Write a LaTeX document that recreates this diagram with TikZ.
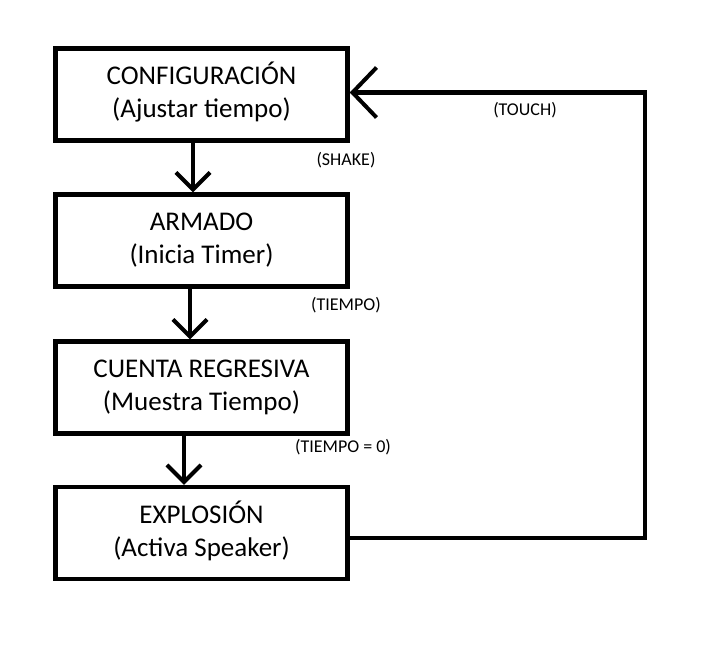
\documentclass[tikz,border=0pt]{standalone}
\usepackage{fontspec}
\setmainfont{Carlito}
\usetikzlibrary{arrows.meta}
\newcommand{\twolines}[2]{\raisebox{5pt}{\begin{tabular}{@{}c@{}}#1\\#2\end{tabular}}}
\begin{document}
\begin{tikzpicture}[x=1pt,y=-1pt,
  state/.style={draw,line width=4.5pt,minimum width=292pt,minimum height=92pt,
    align=center,font=\fontsize{27}{33}\selectfont,inner sep=0pt},
  flow/.style={line width=4.5pt,-{Straight Barb[length=17pt,width=34pt,line width=4pt]}},
  back/.style={line width=4.5pt,-{Straight Barb[length=24pt,width=50pt,line width=4pt]}},
  lbl/.style={font=\fontsize{18}{20}\selectfont,inner sep=0pt}]
\useasboundingbox (0,0) rectangle (720,648);
\node[state] (conf) at (201.5,94.5) {\twolines{CONFIGURACIÓN}{(Ajustar tiempo)}};
\node[state] (arm) at (201.5,240.5) {\twolines{ARMADO}{(Inicia Timer)}};
\node[state] (cta) at (201.5,387.5) {\twolines{CUENTA REGRESIVA}{(Muestra Tiempo)}};
\node[state] (exp) at (201.5,533) {\twolines{EXPLOSIÓN}{(Activa Speaker)}};
\coordinate (c1) at (645,538);
\coordinate (c2) at (645,92.5);
\coordinate (tgt) at (conf.east |- c2);
\draw[flow] (conf.south -| 193,0) -- (arm.north -| 193,0);
\draw[flow] (arm.south -| 190,0) -- (cta.north -| 190,0);
\draw[flow] (cta.south -| 184,0) -- (exp.north -| 184,0);
\draw[back,line join=miter] (exp.east |- c1) -- (c1) -- (c2) -- (tgt);
\node[lbl] (l1) at (346,160) {(SHAKE)};
\node[lbl] (l2) at (346,305) {(TIEMPO)};
\node[lbl] (l3) at (343,447) {(TIEMPO = 0)};
\node[lbl] (l4) at (525,110) {(TOUCH)};
\end{tikzpicture}
\end{document}
